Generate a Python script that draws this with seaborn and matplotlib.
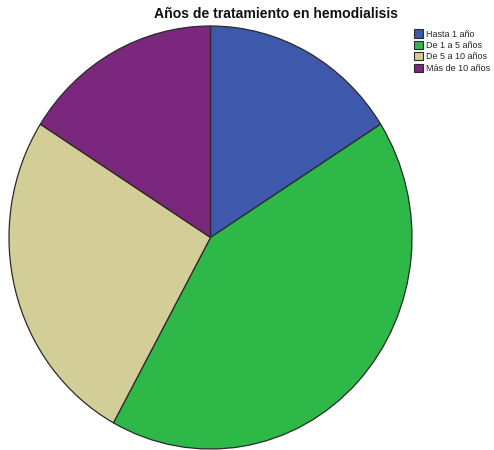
import matplotlib
matplotlib.use("Agg")
import matplotlib.pyplot as plt
import seaborn as sns
from matplotlib.patches import Patch

categories = ["Hasta 1 año", "De 1 a 5 años", "De 5 a 10 años", "Más de 10 años"]
counts = [8, 21, 13, 8]
colors = ["#3E58AC", "#2EB848", "#D3CE97", "#7B277D"]
title = "Años de tratamiento en hemodialisis"

sns.set_style("white")
plt.rcParams["font.family"] = ["Liberation Sans", "DejaVu Sans"]

W, H = 494, 450
fig = plt.figure(figsize=(W / 100, H / 100), dpi=100)

# pie is drawn slightly stretched vertically, like the original
ax = fig.add_axes([9 / W, 1 - 449 / H, 403 / W, 423 / H])
palette = sns.color_palette(colors)
ax.pie(counts, colors=palette, startangle=90, counterclock=False,
       wedgeprops=dict(edgecolor="#2a2a2a", linewidth=0.9))
ax.set_aspect("auto")
ax.set_xlim(-1.0, 1.0)
ax.set_ylim(-1.0, 1.0)

fig.text(276 / W, 1 - 14 / H, title, ha="center", va="center",
         fontsize=10.1, fontweight="bold", color="#111111")

handles = [Patch(facecolor=c, edgecolor="#2a2a2a", linewidth=0.8) for c in palette]
fig.legend(handles, categories, loc="upper left", bbox_to_anchor=(414 / W, 1 - 29.5 / H),
           frameon=False, fontsize=6.5, handlelength=1.0, handleheight=1.0,
           handletextpad=0.3, labelspacing=0.25, borderaxespad=0, borderpad=0)

fig.savefig("out.png", dpi=100)
